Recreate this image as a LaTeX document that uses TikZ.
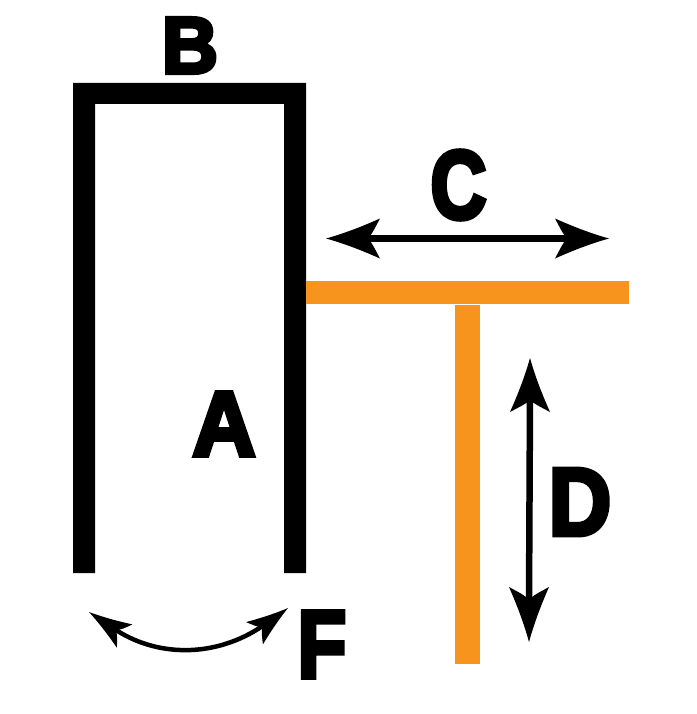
\documentclass[tikz,border=0pt]{standalone}
\usepackage{fontspec}
\setmainfont{Liberation Sans}
\newfontfamily\heavyfont[FakeBold=5]{Liberation Sans Bold}
\usetikzlibrary{calc}
\definecolor{barorange}{HTML}{F7941E}
\tikzset{
  x=1pt,y=-1pt,
  letter/.style={inner sep=0pt,text=black,font=\heavyfont\fontsize{#1}{#1}\selectfont},
  frame/.style={fill=black,draw=none},
  orangebar/.style={fill=barorange,draw=none},
  shaft/.style={draw=black,line width=6.5pt},
  thinshaft/.style={draw=black,line width=4.5pt},
  pics/barb/.style args={#1/#2/#3}{code={
    \fill[black] (0,0) .. controls (-#1*0.4,#2*0.3) and (-#1*0.75,#2*0.7) .. (-#1,#2)
      .. controls (-#1*0.9,#2*0.5) and (-#1*0.85,#2*0.2) .. (-#3,0)
      .. controls (-#1*0.85,-#2*0.2) and (-#1*0.9,-#2*0.5) .. (-#1,-#2)
      .. controls (-#1*0.75,-#2*0.7) and (-#1*0.4,-#2*0.3) .. (0,0) -- cycle;
  }}
}
\begin{document}
\begin{tikzpicture}
\useasboundingbox[fill=white] (0,0) rectangle (696,714);
% black frame
\path[frame] (73,573) -- (73,83) -- (306,83) -- (306,573) -- (284,573) -- (284,104) -- (95,104) -- (95,573) -- cycle;
% orange T
\path[orangebar] (306,281) rectangle (629,304);
\path[orangebar] (455,305) rectangle (480,664);
% anchors
\coordinate (cl) at (326,238.5);
\coordinate (cr) at (609,238.5);
\coordinate (dt) at (530,358);
\coordinate (db) at (529,642);
\coordinate (fl) at (89,612);
\coordinate (fr) at (288,608);
% C arrow
\draw[shaft] ($(cl)+(40,0)$) -- ($(cr)+(-40,0)$);
\pic[rotate=180] at (cl) {barb=54/20/42};
\pic at (cr) {barb=54/20/42};
% D arrow
\draw[shaft] ($(dt)+(0,40)$) -- ($(db)+(0,-40)$);
\pic[rotate=-90] at (db) {barb=55/20/42};
\pic[rotate=90] at (dt) {barb=54/20/42};
% F arrow
\draw[thinshaft] (113,628) .. controls (155,657) and (215,659) .. (264,625);
\pic[rotate=146] at (fl) {barb=43/14/32};
\pic[rotate=37] at (fr) {barb=42/14/32};
% letters
\node[letter=80,xscale=.97] (B) at (190,45.5) {B};
\node[letter=97,xscale=.8] (C) at (458.5,185) {C};
\node[letter=92,xscale=.95] (A) at (224,424) {A};
\node[letter=96,xscale=.9] (D) at (580,502) {D};
\node[letter=96,xscale=.83] (F) at (322,644.5) {F};
\end{tikzpicture}
\end{document}
